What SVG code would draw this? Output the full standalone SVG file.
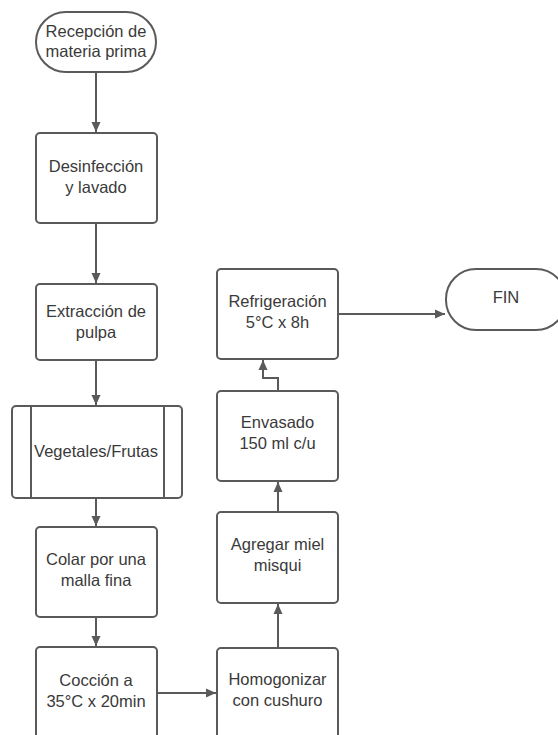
<svg xmlns="http://www.w3.org/2000/svg" width="558" height="735" viewBox="0 0 558 735">
<style>
.n{fill:#fff;stroke:#5a5a5a;stroke-width:2}
.t{font-family:"Liberation Sans",Arial,sans-serif;font-size:16.5px;fill:#3a3a3a;text-anchor:middle}
.c{fill:none;stroke:#5a5a5a;stroke-width:2}
</style>
<defs>
<marker id="ah" markerWidth="10" markerHeight="10" viewBox="0 0 10 10" refX="10" refY="5" orient="auto" markerUnits="userSpaceOnUse">
<path d="M0,0.5 L10,5 L0,9.5 Z" fill="#5a5a5a"/>
</marker>
</defs>
<rect width="558" height="735" fill="#fff"/>
<g id="connectors">
<path class="c" d="M96,72 V132" marker-end="url(#ah)"/>
<path class="c" d="M96,223 V283" marker-end="url(#ah)"/>
<path class="c" d="M96,360 V405" marker-end="url(#ah)"/>
<path class="c" d="M96,498 V526" marker-end="url(#ah)"/>
<path class="c" d="M96,617 V646" marker-end="url(#ah)"/>
<path class="c" d="M157,693 H216" marker-end="url(#ah)"/>
<path class="c" d="M278,648 V604" marker-end="url(#ah)"/>
<path class="c" d="M278,512 V482" marker-end="url(#ah)"/>
<path class="c" d="M278,391 V378 H263 V360" marker-end="url(#ah)"/>
<path class="c" d="M338,314 H445" marker-end="url(#ah)"/>
</g>
<g id="n1"><rect class="n" x="36" y="12" width="120" height="60" rx="30"/><text class="t" x="96" y="37">Recepción de</text><text class="t" x="96" y="57">materia prima</text></g>
<g id="n2"><rect class="n" x="36" y="133" width="121" height="90" rx="4"/><text class="t" x="96" y="172">Desinfección</text><text class="t" x="96" y="193">y lavado</text></g>
<g id="n3"><rect class="n" x="36" y="284" width="121" height="76" rx="4"/><text class="t" x="96" y="317">Extracción de</text><text class="t" x="96" y="338">pulpa</text></g>
<g id="n4"><rect class="n" x="12" y="406" width="170" height="92" rx="4"/><line class="c" x1="31" y1="406" x2="31" y2="498"/><line class="c" x1="164" y1="406" x2="164" y2="498"/><text class="t" x="96" y="457">Vegetales/Frutas</text></g>
<g id="n5"><rect class="n" x="36" y="527" width="121" height="90" rx="4"/><text class="t" x="96" y="565">Colar por una</text><text class="t" x="96" y="586">malla fina</text></g>
<g id="n6"><rect class="n" x="36" y="647" width="121" height="92" rx="4"/><text class="t" x="96" y="686">Cocción a</text><text class="t" x="96" y="707">35°C x 20min</text></g>
<g id="n7"><rect class="n" x="217" y="648" width="121" height="92" rx="4"/><text class="t" x="277.5" y="685">Homogonizar</text><text class="t" x="277.5" y="706">con cushuro</text></g>
<g id="n8"><rect class="n" x="217" y="512" width="121" height="91" rx="4"/><text class="t" x="277.5" y="550">Agregar miel</text><text class="t" x="277.5" y="571">misqui</text></g>
<g id="n9"><rect class="n" x="217" y="391" width="121" height="90" rx="4"/><text class="t" x="277.5" y="428">Envasado</text><text class="t" x="277.5" y="449">150 ml c/u</text></g>
<g id="n10"><rect class="n" x="217" y="269" width="121" height="90" rx="4"/><text class="t" x="277.5" y="307">Refrigeración</text><text class="t" x="277.5" y="328">5°C x 8h</text></g>
<g id="n11"><rect class="n" x="446" y="269" width="120" height="61" rx="30"/><text class="t" x="506" y="303">FIN</text></g>
</svg>
